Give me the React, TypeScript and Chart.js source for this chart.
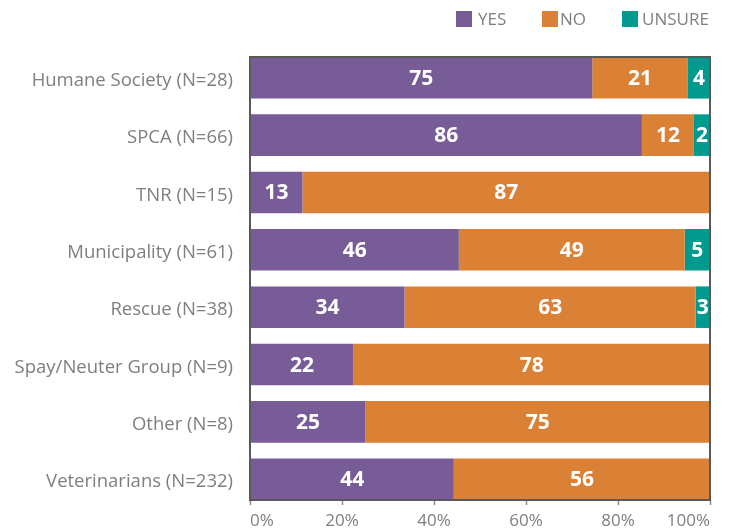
import React, { useEffect, useRef } from "react";
import { Chart, registerables } from "chart.js";

Chart.register(...registerables);

const categories = [
  "Humane Society (N=28)",
  "SPCA (N=66)",
  "TNR (N=15)",
  "Municipality (N=61)",
  "Rescue (N=38)",
  "Spay/Neuter Group (N=9)",
  "Other (N=8)",
  "Veterinarians (N=232)",
];
// bar lengths (percent)
const yesValues = [74.4, 85.2, 11.4, 45.4, 33.6, 22.5, 25.1, 44.3];
const noValues = [20.8, 11.3, 88.6, 49.1, 63.3, 77.5, 74.9, 55.7];
const unsureValues = [4.8, 3.5, 0, 5.5, 3.1, 0, 0, 0];
// numbers printed on the bars
const yesLabels = [75, 86, 13, 46, 34, 22, 25, 44];
const noLabels = [21, 12, 87, 49, 63, 78, 75, 56];
const unsureLabels = [4, 2, 0, 5, 3, 0, 0, 0];
const xTicks = [0, 20, 40, 60, 80, 100];

const seriesNames = ["YES", "NO", "UNSURE"];
const seriesColors = ["#785C98", "#DB8135", "#009A8E"];
const FONT = "'Open Sans', 'Noto Sans', sans-serif";
const GRAY = "#7F7F7F";

const BAR_FRAC = 0.725;

const framePlugin = {
  id: "frame",
  afterDatasetsDraw(chart: any) {
    const { ctx, chartArea } = chart;
    ctx.save();
    ctx.strokeStyle = "#595959";
    ctx.lineWidth = 2;
    ctx.strokeRect(chartArea.left, chartArea.top, chartArea.right - chartArea.left, chartArea.bottom - chartArea.top);
    ctx.restore();
  },
};

const allLabels = [yesLabels, noLabels, unsureLabels];

const labelPlugin = {
  id: "barLabels",
  afterDatasetsDraw(chart: any) {
    const { ctx } = chart;
    ctx.save();
    ctx.fillStyle = "#FFFFFF";
    ctx.font = `bold 21px ${FONT}`;
    ctx.textAlign = "center";
    ctx.textBaseline = "middle";
    chart.data.datasets.forEach((ds: any, di: number) => {
      const meta = chart.getDatasetMeta(di);
      meta.data.forEach((el: any, i: number) => {
        const v = allLabels[di][i];
        if (!v || !ds.data[i]) return;
        const p = el.getCenterPoint();
        ctx.fillText(String(v), p.x, p.y + 1);
      });
    });
    ctx.restore();
  },
};

const legendPlugin = {
  id: "customLegend",
  afterDraw(chart: any) {
    const { ctx } = chart;
    const items = [
      { sx: 456, tx: 478 },
      { sx: 542, tx: 560 },
      { sx: 622, tx: 642 },
    ];
    ctx.save();
    ctx.font = `17px ${FONT}`;
    ctx.textBaseline = "middle";
    ctx.textAlign = "left";
    items.forEach((it, i) => {
      ctx.fillStyle = seriesColors[i];
      ctx.fillRect(it.sx, 11, 16, 16);
      ctx.fillStyle = GRAY;
      ctx.fillText(seriesNames[i], it.tx, 20);
    });
    ctx.restore();
  },
};

export default function App() {
  const ref = useRef<HTMLCanvasElement>(null);
  useEffect(() => {
    if (!ref.current) return;
    const chart = new Chart(ref.current, {
      type: "bar",
      data: {
        labels: categories,
        datasets: [yesValues, noValues, unsureValues].map((d, i) => ({
          label: seriesNames[i],
          data: d,
          backgroundColor: seriesColors[i],
          borderWidth: 0,
          barPercentage: 1,
          categoryPercentage: BAR_FRAC,
        })),
      },
      options: {
        indexAxis: "y",
        animation: false,
        responsive: false,
        maintainAspectRatio: false,
        layout: { padding: { top: 57, right: 20, left: 0, bottom: 0 } },
        plugins: {
          legend: { display: false },
          tooltip: { enabled: false },
        },
        scales: {
          x: {
            stacked: true,
            min: 0,
            max: 100,
            afterBuildTicks: (s: any) => {
              s.ticks = xTicks.map((v) => ({ value: v }));
            },
            afterFit: (s: any) => {
              s.height = 29;
            },
            ticks: {
              callback: (v: any) => `${v}%`,
              color: GRAY,
              font: { family: FONT, size: 17 },
              padding: 6,
              align: "inner",
              maxRotation: 0,
            },
            grid: {
              drawOnChartArea: false,
              drawTicks: true,
              tickLength: 5,
              tickColor: "#8C8C8C",
              tickWidth: 1.5,
            },
            border: { display: false },
          },
          y: {
            stacked: true,
            afterBuildTicks: (s: any) => {
              const n = categories.length;
              s._startValue = -BAR_FRAC / 2;
              s._valueRange = n - 1 + BAR_FRAC;
            },
            afterFit: (s: any) => {
              s.width = 250;
            },
            ticks: {
              color: GRAY,
              font: { family: FONT, size: 18.5 },
              padding: 17,
              labelOffset: 3,
            },
            grid: { display: false, drawTicks: false },
            border: { display: false },
          },
        },
      },
      plugins: [framePlugin, labelPlugin, legendPlugin],
    } as any);
    return () => chart.destroy();
  }, []);
  return (
    <div style={{ position: "absolute", left: 0, top: 0, width: 730, height: 529, background: "#fff" }}>
      <canvas ref={ref} width={730} height={529} style={{ width: 730, height: 529 }} />
    </div>
  );
}
